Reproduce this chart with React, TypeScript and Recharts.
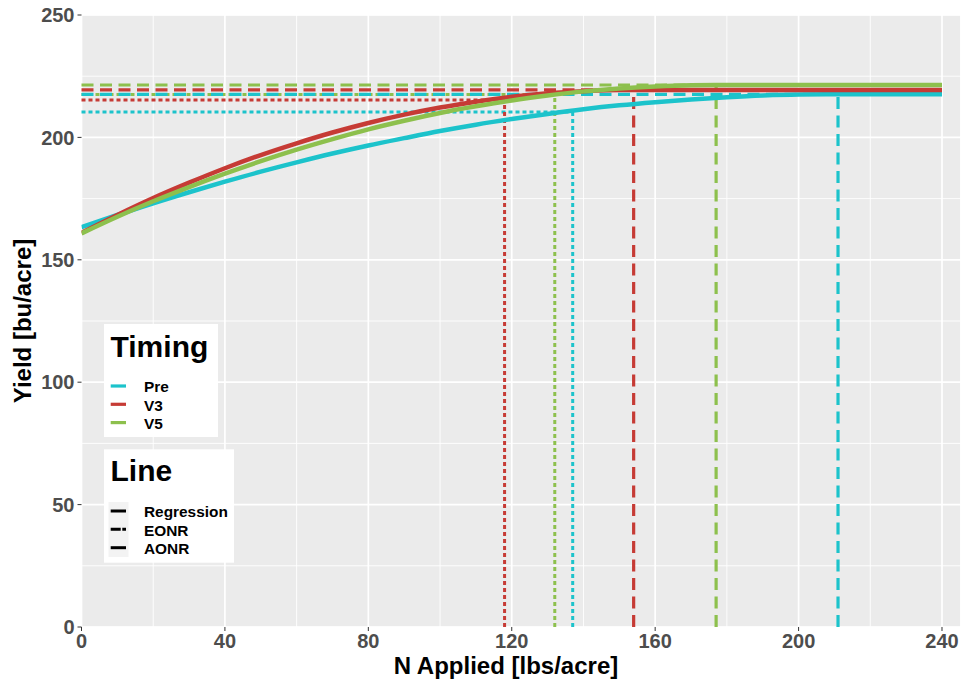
import React from 'react';
import { ComposedChart, Line, XAxis, YAxis, CartesianGrid, ReferenceLine } from 'recharts';

// Quadratic-plateau yield response, one curve per application timing
const preN = [0, 10, 20, 30, 40, 50, 60, 70, 80, 90, 100, 110, 120, 130, 140, 150, 160, 170, 180, 190, 200, 211, 240];
const preYield = [163.3, 168.3, 173.1, 177.6, 181.9, 186.0, 189.8, 193.4, 196.7, 199.7, 202.6, 205.2, 207.5, 209.6, 211.5, 213.1, 214.4, 215.5, 216.4, 217.1, 217.5, 217.6, 217.6];

const v3N = [0, 10, 20, 30, 40, 50, 60, 70, 80, 90, 100, 110, 120, 130, 140, 150, 154, 240];
const v3Yield = [161.0, 168.3, 175.2, 181.5, 187.4, 192.8, 197.6, 202.0, 205.9, 209.3, 212.2, 214.6, 216.6, 218.0, 218.9, 219.4, 219.4, 219.4];

const v5N = [0, 10, 20, 30, 40, 50, 60, 70, 80, 90, 100, 110, 120, 130, 140, 150, 160, 170, 177, 240];
const v5Yield = [160.8, 167.6, 173.9, 179.7, 185.2, 190.3, 195.0, 199.3, 203.3, 206.8, 210.0, 212.7, 215.1, 217.1, 218.8, 220.0, 220.8, 221.3, 221.4, 221.4];

// Optimum N rates and the yields at those rates (Pre, V3, V5)
const timings = ['Pre', 'V3', 'V5'];
const timingColors = ['#1CC3CB', '#C63B35', '#8DC04D'];
const aonrN = [211, 154, 177];
const aonrYield = [217.6, 219.4, 221.4];
const eonrN = [137, 118, 132];
const eonrYield = [210.4, 215.3, 217.5];

const xTicks = [0, 40, 80, 120, 160, 200, 240];
const xMinorTicks = [20, 60, 100, 140, 180, 220];
const yTicks = [0, 50, 100, 150, 200, 250];
const yMinorTicks = [25, 75, 125, 175, 225];
const lineTypes = ['Regression', 'EONR', 'AONR'];

const X_MAX = 245.3;
const FONT = "'Liberation Sans', Arial, sans-serif";

const toPoints = (ns: number[], ys: number[]) => ns.map((n, i) => ({ n, y: ys[i] }));
const curves = [toPoints(preN, preYield), toPoints(v3N, v3Yield), toPoints(v5N, v5Yield)];

const tickStyle = { fontSize: 20, fontWeight: 'bold' as const, fill: '#4D4D4D', fontFamily: FONT };

export default function App() {
  return (
    <div style={{ position: 'absolute', left: 0, top: 0, width: 961, height: 683, background: '#fff', overflow: 'hidden' }}>
      <ComposedChart width={961} height={683} margin={{ top: 15, right: 0, bottom: 0, left: 0 }}>
        <XAxis xAxisId="minor" type="number" dataKey="n" domain={[0, X_MAX]} ticks={xMinorTicks} hide allowDataOverflow />
        <YAxis yAxisId="minor" type="number" domain={[0, 250]} ticks={yMinorTicks} hide allowDataOverflow />
        <XAxis
          type="number"
          dataKey="n"
          domain={[0, X_MAX]}
          ticks={xTicks}
          allowDataOverflow
          height={56}
          axisLine={false}
          tickSize={4}
          tickMargin={3}
          tickLine={{ stroke: '#333333' }}
          tick={tickStyle}
          interval={0}
        />
        <YAxis
          type="number"
          domain={[0, 250]}
          ticks={yTicks}
          allowDataOverflow
          width={81.5}
          axisLine={false}
          tickSize={4}
          tickMargin={3}
          tickLine={{ stroke: '#333333' }}
          tick={tickStyle}
          interval={0}
        />
        <CartesianGrid xAxisId="minor" yAxisId="minor" fill="#EBEBEB" stroke="#FFFFFF" strokeWidth={0.9} />
        <CartesianGrid stroke="#FFFFFF" strokeWidth={1.7} />

        {timings.map((t, i) => (
          <ReferenceLine
            key={`eonr-h-${t}`}
            segment={[{ x: 0, y: eonrYield[i] }, { x: eonrN[i], y: eonrYield[i] }]}
            stroke={timingColors[i]}
            strokeWidth={3}
            strokeDasharray="4 3"
          />
        ))}
        {timings.map((t, i) => (
          <ReferenceLine
            key={`eonr-v-${t}`}
            segment={[{ x: eonrN[i], y: 0 }, { x: eonrN[i], y: eonrYield[i] }]}
            stroke={timingColors[i]}
            strokeWidth={3}
            strokeDasharray="4 3"
          />
        ))}
        {timings.map((t, i) => (
          <ReferenceLine
            key={`aonr-h-${t}`}
            segment={[{ x: 0, y: aonrYield[i] }, { x: aonrN[i], y: aonrYield[i] }]}
            stroke={timingColors[i]}
            strokeWidth={3.2}
            strokeDasharray="12 6.5"
          />
        ))}
        {timings.map((t, i) => (
          <ReferenceLine
            key={`aonr-v-${t}`}
            segment={[{ x: aonrN[i], y: 0 }, { x: aonrN[i], y: aonrYield[i] }]}
            stroke={timingColors[i]}
            strokeWidth={3.2}
            strokeDasharray="12 6.5"
          />
        ))}

        {timings.map((t, i) => (
          <Line
            key={`curve-${t}`}
            data={curves[i]}
            dataKey="y"
            type="monotone"
            stroke={timingColors[i]}
            strokeWidth={4.5}
            dot={false}
            activeDot={false}
            isAnimationActive={false}
          />
        ))}
      </ComposedChart>

      <svg width={961} height={683} style={{ position: 'absolute', left: 0, top: 0, pointerEvents: 'none' }} fontFamily={FONT}>
        {/* axis titles */}
        <text x={506} y={673.5} textAnchor="middle" fontSize={24} fontWeight="bold" fill="#000">N Applied [lbs/acre]</text>
        <text x={31} y={321} textAnchor="middle" fontSize={24} fontWeight="bold" fill="#000" transform="rotate(-90 31 321)">Yield [bu/acre]</text>

        {/* Timing legend */}
        <rect x={104} y={324} width={114} height={113} fill="#FFFFFF" />
        <text x={110.5} y={357.3} fontSize={30} fontWeight="bold" fill="#000">Timing</text>
        {timings.map((t, i) => (
          <g key={`lg-t-${t}`}>
            <line x1={110.7} x2={126} y1={386 + i * 18.3} y2={386 + i * 18.3} stroke={timingColors[i]} strokeWidth={3.2} />
            <text x={144} y={392.3 + i * 18.3} fontSize={15.4} fontWeight="bold" fill="#000">{t}</text>
          </g>
        ))}

        {/* Line legend */}
        <rect x={104} y={449.3} width={130} height={113.4} fill="#FFFFFF" />
        <rect x={108.5} y={502} width={20} height={55} fill="#F3F3F3" />
        <text x={110.5} y={480.7} fontSize={30} fontWeight="bold" fill="#000">Line</text>
        {lineTypes.map((t, i) => (
          <g key={`lg-l-${t}`}>
            <line
              x1={110.7}
              x2={126}
              y1={511 + i * 18.35}
              y2={511 + i * 18.35}
              stroke="#000"
              strokeWidth={3}
              strokeDasharray={t === 'EONR' ? '10 1.6 4' : undefined}
            />
            <text x={144} y={517.3 + i * 18.35} fontSize={15.4} fontWeight="bold" fill="#000">{t}</text>
          </g>
        ))}
      </svg>
    </div>
  );
}
